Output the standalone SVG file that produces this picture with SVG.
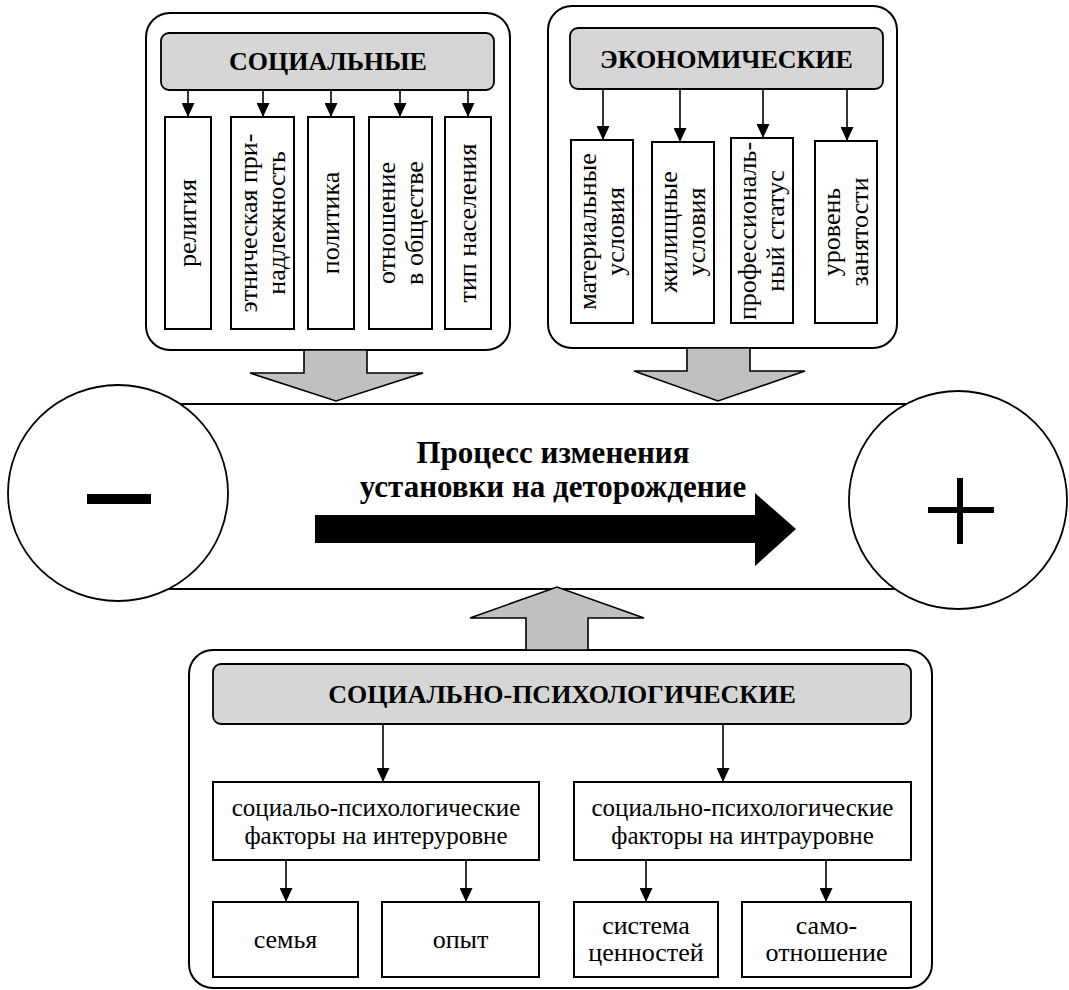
<svg xmlns="http://www.w3.org/2000/svg" width="1069" height="990" viewBox="0 0 1069 990">
<style>
.panel{fill:#fff;stroke:#000;stroke-width:2}
.hdr{fill:#d6d6d6;stroke:#000;stroke-width:1.8}
.box{fill:#fff;stroke:#000;stroke-width:2}
.ht{font-weight:bold;font-size:26px;text-anchor:middle;fill:#000}
.t{font-size:26px;text-anchor:middle;fill:#000}
.tm{font-size:25px;text-anchor:middle;fill:#000}
.tt{font-weight:bold;font-size:31px;text-anchor:middle;fill:#000}
.ln{stroke:#000;stroke-width:1.6;fill:none;marker-end:url(#ah)}
.garrow{fill:#c0c0c0;stroke:#000;stroke-width:1.6;stroke-linejoin:miter}
.cyl{fill:#fff;stroke:#000;stroke-width:1.8}
</style>
<defs>
<marker id="ah" markerUnits="userSpaceOnUse" markerWidth="14" markerHeight="13" refX="14" refY="6.5" orient="auto">
<path d="M0,0 L14,6.5 L0,13 z" fill="#000"/>
</marker>
</defs>

<!-- central cylinder -->
<g id="process">
<rect x="118" y="404" width="840" height="185" fill="#fff" stroke="none"/>
<line x1="118" y1="404" x2="958" y2="404" stroke="#000" stroke-width="1.8"/>
<line x1="118" y1="589" x2="958" y2="589" stroke="#000" stroke-width="1.8"/>
</g>
<g id="minus">
<ellipse class="cyl" cx="118" cy="493" rx="110" ry="108"/>
<rect x="87" y="494" width="64" height="10" fill="#000"/>
</g>
<g id="plus">
<ellipse class="cyl" cx="958" cy="500" rx="109" ry="109"/>
<rect x="928" y="507" width="66" height="6" fill="#000"/>
<rect x="957" y="478" width="6" height="66" fill="#000"/>
</g>
<g id="process-label">
<polygon points="315,515 755,515 755,493 796,529 755,566 755,543 315,543" fill="#000"/>
<text class="tt" font-family="Liberation Serif" x="553" y="463">Процесс изменения</text>
<text class="tt" font-family="Liberation Serif" x="553" y="497">установки на деторождение</text>
</g>

<!-- social panel -->
<g id="social">
<rect class="panel" x="146" y="13" width="364" height="337" rx="24"/>
<rect class="hdr" x="161" y="33" width="333" height="57" rx="8"/>
<text class="ht" font-family="Liberation Serif" x="328" y="70">СОЦИАЛЬНЫЕ</text>
</g>
<g id="s1"><rect class="box" x="165" y="117" width="46" height="212"/>
<text class="t" font-family="Liberation Serif" transform="translate(188,223) rotate(-90)" y="8">религия</text></g>
<g id="s2"><rect class="box" x="231" y="117" width="63" height="212"/>
<text class="t" font-family="Liberation Serif" transform="translate(262.5,223) rotate(-90)"><tspan x="0" y="-6">этническая при-</tspan><tspan x="0" y="22">надлежность</tspan></text></g>
<g id="s3"><rect class="box" x="308" y="117" width="46" height="212"/>
<text class="t" font-family="Liberation Serif" transform="translate(331,223) rotate(-90)" y="8">политика</text></g>
<g id="s4"><rect class="box" x="369" y="117" width="63" height="212"/>
<text class="t" font-family="Liberation Serif" transform="translate(400.5,223) rotate(-90)"><tspan x="0" y="-6">отношение</tspan><tspan x="0" y="22">в обществе</tspan></text></g>
<g id="s5"><rect class="box" x="445" y="117" width="46" height="212"/>
<text class="t" font-family="Liberation Serif" transform="translate(468,223) rotate(-90)" y="8">тип населения</text></g>

<!-- economic panel -->
<g id="economic">
<rect class="panel" x="548" y="6" width="349" height="342" rx="24"/>
<rect class="hdr" x="570" y="28" width="313" height="61" rx="8"/>
<text class="ht" font-family="Liberation Serif" x="726.5" y="68">ЭКОНОМИЧЕСКИЕ</text>
</g>
<g id="e1"><rect class="box" x="571" y="140" width="62" height="183"/>
<text class="t" font-family="Liberation Serif" transform="translate(602,231.5) rotate(-90)"><tspan x="0" y="-6">материальные</tspan><tspan x="0" y="22">условия</tspan></text></g>
<g id="e2"><rect class="box" x="652" y="142" width="62" height="181"/>
<text class="t" font-family="Liberation Serif" transform="translate(683,232) rotate(-90)"><tspan x="0" y="-6">жилищные</tspan><tspan x="0" y="22">условия</tspan></text></g>
<g id="e3"><rect class="box" x="731" y="138" width="62" height="185"/>
<text class="t" font-family="Liberation Serif" transform="translate(762,231) rotate(-90)"><tspan x="0" y="-6">профессиональ-</tspan><tspan x="0" y="22">ный статус</tspan></text></g>
<g id="e4"><rect class="box" x="815" y="141" width="62" height="182"/>
<text class="t" font-family="Liberation Serif" transform="translate(846,232) rotate(-90)"><tspan x="0" y="-6">уровень</tspan><tspan x="0" y="22">занятости</tspan></text></g>

<!-- socio-psychological panel -->
<g id="sociopsych">
<rect class="panel" x="189" y="650" width="743" height="338" rx="24"/>
<rect class="hdr" x="213" y="664" width="698" height="60" rx="8"/>
<text class="ht" font-family="Liberation Serif" x="562" y="703">СОЦИАЛЬНО-ПСИХОЛОГИЧЕСКИЕ</text>
</g>
<g id="inter"><rect class="box" x="213" y="782" width="326" height="78"/>
<text class="tm" font-family="Liberation Serif" x="376" y="816">социальо-психологические</text>
<text class="tm" font-family="Liberation Serif" x="376" y="844">факторы на интеруровне</text></g>
<g id="intra"><rect class="box" x="574" y="782" width="337" height="78"/>
<text class="tm" font-family="Liberation Serif" x="742.5" y="816">социально-психологические</text>
<text class="tm" font-family="Liberation Serif" x="742.5" y="844">факторы на интрауровне</text></g>
<g id="family"><rect class="box" x="213" y="902" width="145" height="75"/>
<text class="t" font-family="Liberation Serif" x="285.5" y="948">семья</text></g>
<g id="experience"><rect class="box" x="382" y="902" width="157" height="75"/>
<text class="t" font-family="Liberation Serif" x="460.5" y="948">опыт</text></g>
<g id="values"><rect class="box" x="574" y="902" width="144" height="75"/>
<text class="t" font-family="Liberation Serif" x="646" y="934">система</text>
<text class="t" font-family="Liberation Serif" x="646" y="961">ценностей</text></g>
<g id="selfattitude"><rect class="box" x="742" y="902" width="169" height="75"/>
<text class="t" font-family="Liberation Serif" x="826.5" y="934">само-</text>
<text class="t" font-family="Liberation Serif" x="826.5" y="961">отношение</text></g>

<!-- connectors -->
<g id="connectors">
<line class="ln" x1="188" y1="90" x2="188" y2="117"/>
<line class="ln" x1="263" y1="90" x2="263" y2="117"/>
<line class="ln" x1="331" y1="90" x2="331" y2="117"/>
<line class="ln" x1="400" y1="90" x2="400" y2="117"/>
<line class="ln" x1="468" y1="90" x2="468" y2="117"/>
<line class="ln" x1="603" y1="89" x2="603" y2="140"/>
<line class="ln" x1="680" y1="89" x2="680" y2="142"/>
<line class="ln" x1="763" y1="89" x2="763" y2="138"/>
<line class="ln" x1="847" y1="89" x2="847" y2="141"/>
<line class="ln" x1="383" y1="724" x2="383" y2="782"/>
<line class="ln" x1="723" y1="724" x2="723" y2="782"/>
<line class="ln" x1="286" y1="860" x2="286" y2="902"/>
<line class="ln" x1="466" y1="860" x2="466" y2="902"/>
<line class="ln" x1="646" y1="860" x2="646" y2="902"/>
<line class="ln" x1="826" y1="860" x2="826" y2="902"/>
<polygon class="garrow" points="304,350 367,350 367,373 423,373 336,401 250,373 304,373"/>
<polygon class="garrow" points="687,348 750,348 750,371 805,371 718,401 634,371 687,371"/>
<polygon class="garrow" points="526,650 588,650 588,618 644,618 557,587 470,618 526,618"/>
</g>
</svg>
